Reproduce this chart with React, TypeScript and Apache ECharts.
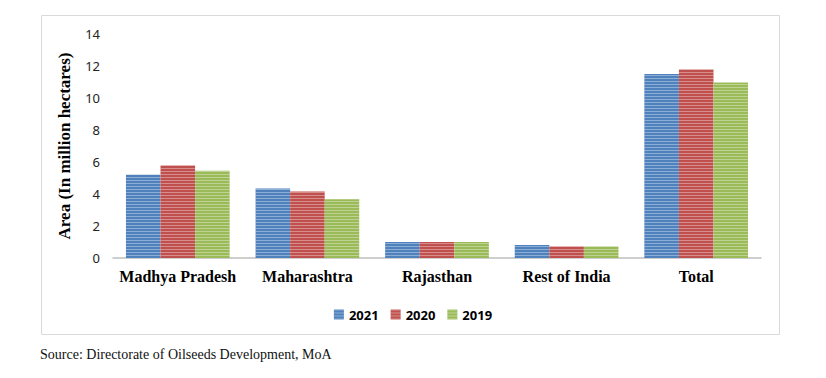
import React, { useEffect, useRef } from "react";
import * as echarts from "echarts";

const categories = ["Madhya Pradesh", "Maharashtra", "Rajasthan", "Rest of India", "Total"];
const years = ["2021", "2020", "2019"];
const values2021 = [5.2, 4.35, 1.0, 0.82, 11.5];
const values2020 = [5.78, 4.15, 1.0, 0.72, 11.78];
const values2019 = [5.45, 3.67, 1.0, 0.72, 10.97];
const colors = ["#4F81BD", "#C0504D", "#9BBB59"];
const sourceText = "Source: Directorate of Oilseeds Development, MoA";

export default function App() {
  const ref = useRef<HTMLDivElement>(null);
  useEffect(() => {
    if (!ref.current) return;
    const chart = echarts.init(ref.current, undefined, { renderer: "svg" });
    const seriesData = [values2021, values2020, values2019];
    const decal = {
      symbol: "rect",
      symbolSize: 1,
      color: "rgba(255,255,255,0.35)",
      dashArrayX: [1, 0],
      dashArrayY: [1, 2],
      rotation: 0,
    };
    chart.setOption({
      animation: false,
      backgroundColor: "#ffffff",
      grid: { left: 113, right: 65, top: 34, bottom: 120 },
      legend: {
        data: years,
        top: 303,
        left: "center",
        itemWidth: 10,
        itemHeight: 10,
        itemGap: 12,
        icon: "rect",
        textStyle: { fontFamily: "Noto Sans", fontWeight: "bold", fontSize: 13, color: "#000" },
      },
      xAxis: {
        type: "category",
        data: categories,
        axisTick: { show: false },
        axisLine: { lineStyle: { color: "#bfbfbf", width: 1.5 } },
        axisLabel: {
          interval: 0,
          fontFamily: "Liberation Serif",
          fontWeight: "bold",
          fontSize: 16,
          color: "#000",
          margin: 10,
        },
      },
      yAxis: {
        type: "value",
        min: 0,
        max: 14,
        interval: 2,
        name: "Area (In million hectares)",
        nameLocation: "middle",
        nameRotate: 90,
        nameGap: 40,
        nameTextStyle: { fontFamily: "Liberation Serif", fontWeight: "bold", fontSize: 17, color: "#000" },
        splitLine: { show: false },
        axisLine: { show: false },
        axisTick: { show: false },
        axisLabel: { fontFamily: "Noto Sans", fontSize: 13, color: "#222", margin: 13 },
      },
      series: years.map((y, i) => ({
        name: y,
        type: "bar",
        data: seriesData[i],
        barGap: "0%",
        barCategoryGap: "20%",
        itemStyle: { color: colors[i], decal },
      })),
      graphic: [
        {
          type: "rect",
          shape: { x: 41.5, y: 15.5, width: 738, height: 319 },
          style: { fill: "none", stroke: "#d9d9d9", lineWidth: 1 },
          silent: true,
        },
        {
          type: "text",
          x: 40,
          y: 347,
          style: { text: sourceText, fontFamily: "Liberation Serif", fontSize: 14, fill: "#111" },
        },
      ],
    });
    return () => chart.dispose();
  }, []);
  return (
    <div
      ref={ref}
      style={{ position: "absolute", left: 0, top: 0, width: 826, height: 378 }}
    />
  );
}
